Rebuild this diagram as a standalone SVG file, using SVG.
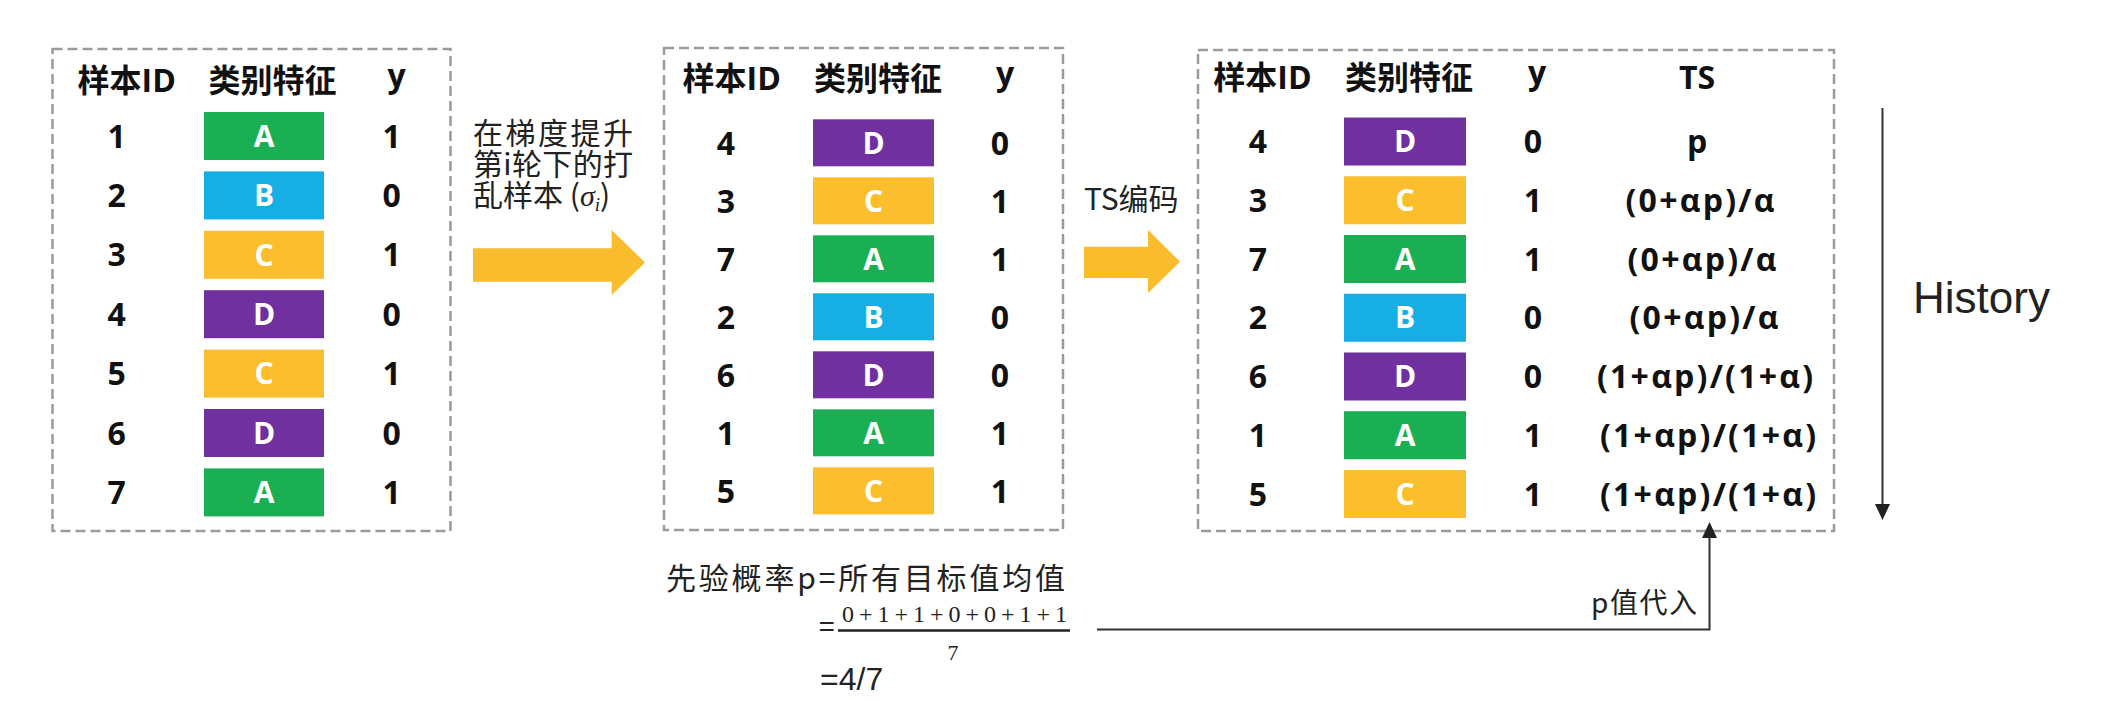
<svg xmlns="http://www.w3.org/2000/svg" width="2110" height="724" viewBox="0 0 2110 724">
<style>
.box{fill:none;stroke:#9a9a9a;stroke-width:2.5;stroke-dasharray:10 5}
.t{font-family:"Open Sans","Noto Sans CJK SC",sans-serif;font-weight:700;font-size:32px;fill:#111;text-anchor:middle}
.c{font-family:"Open Sans","Noto Sans CJK SC",sans-serif;font-weight:700;font-size:30px;fill:#fff;text-anchor:middle}
.lbl{font-family:"Noto Sans CJK SC",sans-serif;font-weight:400;fill:#222}
.A{fill:#1BAF54}.B{fill:#15AFE6}.C{fill:#FBBF2E}.D{fill:#7030A0}
.blk{fill:#F9BC2C}
.ln{fill:none;stroke:#333;stroke-width:2}
</style>
<defs>
<marker id="ah" viewBox="0 0 16 15" refX="0" refY="7.5" markerWidth="16" markerHeight="15" markerUnits="userSpaceOnUse" orient="auto">
<path d="M0,0 L16,7.5 L0,15 Z" fill="#222"/>
</marker>
</defs>
<rect width="2110" height="724" fill="#fff"/>

<g id="table1">
<rect class="box" x="52.5" y="49" width="398" height="482"/>
<text class="t" x="126.7" y="92">样本ID</text>
<text class="t" x="272.5" y="92">类别特征</text>
<text class="t" x="396.7" y="87">y</text>
<rect class="A" x="204" y="112" width="120" height="48"/>
<rect class="B" x="204" y="171.4" width="120" height="48"/>
<rect class="C" x="204" y="230.8" width="120" height="48"/>
<rect class="D" x="204" y="290.2" width="120" height="48"/>
<rect class="C" x="204" y="349.6" width="120" height="48"/>
<rect class="D" x="204" y="409" width="120" height="48"/>
<rect class="A" x="204" y="468.4" width="120" height="48"/>
<text class="c" x="264" y="146.7">A</text>
<text class="c" x="264" y="206.1">B</text>
<text class="c" x="264" y="265.5">C</text>
<text class="c" x="264" y="324.9">D</text>
<text class="c" x="264" y="384.3">C</text>
<text class="c" x="264" y="443.7">D</text>
<text class="c" x="264" y="503.1">A</text>
<text class="t" x="116.7" y="147.5">1</text>
<text class="t" x="116.7" y="206.9">2</text>
<text class="t" x="116.7" y="266.3">3</text>
<text class="t" x="116.7" y="325.7">4</text>
<text class="t" x="116.7" y="385.1">5</text>
<text class="t" x="116.7" y="444.5">6</text>
<text class="t" x="116.7" y="503.9">7</text>
<text class="t" x="391.7" y="147.5">1</text>
<text class="t" x="391.7" y="206.9">0</text>
<text class="t" x="391.7" y="266.3">1</text>
<text class="t" x="391.7" y="325.7">0</text>
<text class="t" x="391.7" y="385.1">1</text>
<text class="t" x="391.7" y="444.5">0</text>
<text class="t" x="391.7" y="503.9">1</text>
</g>

<g id="table2">
<rect class="box" x="664" y="48" width="399" height="482"/>
<text class="t" x="731.7" y="90">样本ID</text>
<text class="t" x="878" y="90">类别特征</text>
<text class="t" x="1005" y="85">y</text>
<rect class="D" x="813" y="119.3" width="121" height="47"/>
<rect class="C" x="813" y="177.3" width="121" height="47"/>
<rect class="A" x="813" y="235.3" width="121" height="47"/>
<rect class="B" x="813" y="293.3" width="121" height="47"/>
<rect class="D" x="813" y="351.3" width="121" height="47"/>
<rect class="A" x="813" y="409.3" width="121" height="47"/>
<rect class="C" x="813" y="467.3" width="121" height="47"/>
<text class="c" x="873.5" y="154">D</text>
<text class="c" x="873.5" y="212">C</text>
<text class="c" x="873.5" y="270">A</text>
<text class="c" x="873.5" y="328">B</text>
<text class="c" x="873.5" y="386">D</text>
<text class="c" x="873.5" y="444">A</text>
<text class="c" x="873.5" y="502">C</text>
<text class="t" x="726" y="154.8">4</text>
<text class="t" x="726" y="212.8">3</text>
<text class="t" x="726" y="270.8">7</text>
<text class="t" x="726" y="328.8">2</text>
<text class="t" x="726" y="386.8">6</text>
<text class="t" x="726" y="444.8">1</text>
<text class="t" x="726" y="502.8">5</text>
<text class="t" x="1000" y="154.8">0</text>
<text class="t" x="1000" y="212.8">1</text>
<text class="t" x="1000" y="270.8">1</text>
<text class="t" x="1000" y="328.8">0</text>
<text class="t" x="1000" y="386.8">0</text>
<text class="t" x="1000" y="444.8">1</text>
<text class="t" x="1000" y="502.8">1</text>
</g>

<g id="table3">
<rect class="box" x="1198" y="50" width="636" height="481"/>
<text class="t" x="1262.5" y="89">样本ID</text>
<text class="t" x="1409" y="89">类别特征</text>
<text class="t" x="1537" y="84">y</text>
<text class="t" x="1697" y="89">TS</text>
<rect class="D" x="1344" y="117.5" width="122" height="48"/>
<rect class="C" x="1344" y="176.25" width="122" height="48"/>
<rect class="A" x="1344" y="235" width="122" height="48"/>
<rect class="B" x="1344" y="293.75" width="122" height="48"/>
<rect class="D" x="1344" y="352.5" width="122" height="48"/>
<rect class="A" x="1344" y="411.25" width="122" height="48"/>
<rect class="C" x="1344" y="470" width="122" height="48"/>
<text class="c" x="1405" y="152.2">D</text>
<text class="c" x="1405" y="210.95">C</text>
<text class="c" x="1405" y="269.7">A</text>
<text class="c" x="1405" y="328.45">B</text>
<text class="c" x="1405" y="387.2">D</text>
<text class="c" x="1405" y="445.95">A</text>
<text class="c" x="1405" y="504.7">C</text>
<text class="t" x="1258" y="153">4</text>
<text class="t" x="1258" y="211.75">3</text>
<text class="t" x="1258" y="270.5">7</text>
<text class="t" x="1258" y="329.25">2</text>
<text class="t" x="1258" y="388">6</text>
<text class="t" x="1258" y="446.75">1</text>
<text class="t" x="1258" y="505.5">5</text>
<text class="t" x="1533" y="153">0</text>
<text class="t" x="1533" y="211.75">1</text>
<text class="t" x="1533" y="270.5">1</text>
<text class="t" x="1533" y="329.25">0</text>
<text class="t" x="1533" y="388">0</text>
<text class="t" x="1533" y="446.75">1</text>
<text class="t" x="1533" y="505.5">1</text>
<text class="t" x="1697" y="153">p</text>
<text class="t" x="1700" y="211.75" textLength="149" lengthAdjust="spacing">(0+αp)/α</text>
<text class="t" x="1702" y="270.5" textLength="149" lengthAdjust="spacing">(0+αp)/α</text>
<text class="t" x="1704" y="329.25" textLength="149" lengthAdjust="spacing">(0+αp)/α</text>
<text class="t" x="1705" y="388" textLength="216" lengthAdjust="spacing">(1+αp)/(1+α)</text>
<text class="t" x="1708" y="446.75" textLength="216" lengthAdjust="spacing">(1+αp)/(1+α)</text>
<text class="t" x="1708" y="505.5" textLength="216" lengthAdjust="spacing">(1+αp)/(1+α)</text>
</g>

<g id="shuffle-label">
<text class="lbl" font-size="30"><tspan x="473" y="144" textLength="160" lengthAdjust="spacing">在梯度提升</tspan><tspan x="473" y="175" textLength="160" lengthAdjust="spacing">第i轮下的打</tspan><tspan x="473" y="206">乱样本 (</tspan><tspan font-family="Liberation Serif" font-style="italic">σ</tspan><tspan font-family="Liberation Serif" font-style="italic" font-size="19" dy="5">i</tspan><tspan dy="-5">)</tspan></text>
</g>

<g id="ts-label">
<text class="lbl" x="1084" y="210" font-size="30">TS编码</text>
</g>

<g id="prior-formula">
<text class="lbl" x="666" y="589" font-size="30" textLength="399" lengthAdjust="spacing">先验概率p=所有目标值均值</text>
<text class="lbl" x="819" y="637" font-size="28">=</text>
<text x="842" y="622" font-family="Liberation Serif" font-size="24" fill="#222" textLength="225" lengthAdjust="spacing">0+1+1+0+0+1+1</text>
<line x1="838" y1="630.5" x2="1070" y2="630.5" stroke="#222" stroke-width="2.5"/>
<text x="953" y="660" font-family="Liberation Serif" font-size="22" fill="#222" text-anchor="middle">7</text>
<text x="820" y="690" font-family="Liberation Sans" font-size="32" fill="#222">=4/7</text>
</g>

<g id="p-label">
<text class="lbl" x="1591" y="613" font-size="28" textLength="106" lengthAdjust="spacing">p值代入</text>
</g>

<g id="history-label">
<text x="1913" y="313" font-family="Liberation Sans" font-size="44" fill="#222">History</text>
</g>

<g id="connectors">
<path class="blk" d="M473,248.3 H611.7 V230 L645,262.5 L611.7,295 V281.7 H473 Z"/>
<path class="blk" d="M1084,246.7 H1148 V230 L1180,261.7 L1148,293 V278 H1084 Z"/>
<path class="ln" d="M1097,629.5 H1709.5 V538" marker-end="url(#ah)"/>
<path class="ln" d="M1882.5,108 V504" stroke-width="1.8" marker-end="url(#ah)"/>
</g>
</svg>
